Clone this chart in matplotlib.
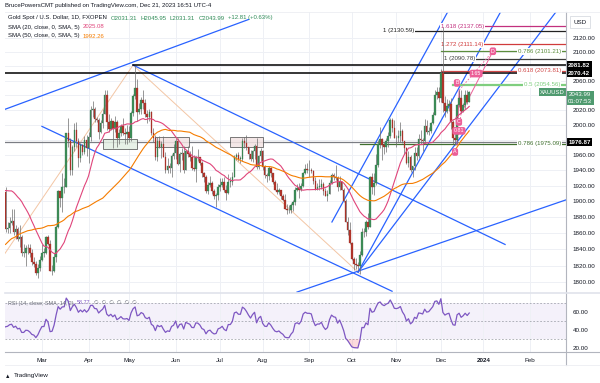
import numpy as np
import pandas as pd
import matplotlib
matplotlib.use("Agg")
import matplotlib.pyplot as plt
from matplotlib.transforms import blended_transform_factory as btf

plt.rcParams['font.family'] = ['Liberation Sans', 'DejaVu Sans']

# ---------------- data ----------------
# closes before the visible window (2022-11-21 .. 2023-02-02), used for SMA / RSI warm-up
warmup_closes = [1738, 1740, 1750, 1755, 1754, 1741, 1749, 1768, 1803, 1797,
                 1769, 1771, 1787, 1789, 1797, 1781, 1810, 1807, 1777, 1793,
                 1787, 1818, 1814, 1793, 1798, 1798, 1814, 1804, 1815, 1824,
                 1828, 1839, 1855, 1833, 1865, 1872, 1877, 1875, 1897, 1920,
                 1916, 1908, 1904, 1932, 1926, 1931, 1937, 1946, 1930, 1928,
                 1923, 1928, 1951, 1912]

start_date = "2023-02-03"   # daily bars (business days) through 2023-12-21

closes = [
    # Feb
    1865, 1867, 1873, 1875, 1861, 1865, 1853, 1855, 1836, 1836, 1842, 1841, 1835, 1825, 1822, 1811, 1817, 1827,
    # Mar
    1836, 1836, 1855, 1847, 1813, 1814, 1831, 1868, 1913, 1904, 1918, 1919, 1989, 1978, 1940, 1970, 1993, 1978, 1956, 1973, 1964, 1980, 1969,
    # Apr
    1984, 2020, 2021, 2008, 2007, 1990, 2003, 2014, 2040, 2004, 1995, 2005, 1994, 2004, 1983, 1989, 1998, 1989, 1988, 1990,
    # May
    1983, 2016, 2039, 2050, 2017, 2021, 2034, 2030, 2015, 2011, 2017, 1989, 1982, 1958, 1978, 1971, 1975, 1957, 1941, 1946, 1943, 1959, 1963,
    # Jun
    1978, 1948, 1961, 1963, 1940, 1965, 1961, 1957, 1943, 1942, 1958, 1957, 1950, 1936, 1932, 1913, 1921, 1923, 1913, 1907, 1908, 1919,
    # Jul
    1921, 1925, 1915, 1911, 1925, 1925, 1932, 1957, 1960, 1955, 1955, 1979, 1976, 1970, 1962, 1955, 1965, 1972, 1945, 1959, 1965,
    # Aug
    1944, 1934, 1933, 1943, 1936, 1925, 1915, 1912, 1914, 1907, 1902, 1891, 1889, 1889, 1895, 1899, 1915, 1917, 1914, 1920, 1937, 1942, 1940,
    # Sep
    1940, 1939, 1926, 1916, 1919, 1919, 1922, 1913, 1907, 1910, 1924, 1934, 1931, 1930, 1919, 1925, 1915, 1901, 1874, 1864, 1848,
    # Oct
    1828, 1822, 1821, 1820, 1833, 1862, 1861, 1874, 1868, 1932, 1919, 1923, 1947, 1974, 1981, 1973, 1970, 1979, 1985, 2006, 1996, 1983,
    # Nov
    1982, 1985, 1992, 1978, 1969, 1950, 1958, 1940, 1946, 1963, 1959, 1981, 1980, 1978, 1998, 1990, 1992, 2002, 2013, 2041, 2044, 2036,
    # Dec
    2071, 2029, 2019, 2025, 2028, 2004, 1982, 1980, 2027, 2036, 2019, 2027, 2040, 2031.31, 2043.99,
]
highs = [
    1918, 1874, 1880, 1890, 1890, 1870, 1868, 1870, 1858, 1846, 1845, 1846, 1846, 1840, 1830, 1826, 1822, 1832,
    1846, 1841, 1856, 1858, 1852, 1821, 1835, 1870, 1914, 1913, 1937, 1930, 1989, 2009, 1983, 1973, 2003, 2004, 1982, 1976, 1975, 1985, 1987,
    1990, 2025, 2032, 2024, 2010, 2009, 2007, 2022, 2048, 2048, 2015, 2009, 2005, 2012, 2007, 1994, 2001, 2009, 1996, 2000,
    1999, 2019, 2042, 2081, 2063, 2029, 2038, 2048, 2035, 2020, 2022, 2019, 1996, 1986, 1984, 1985, 1979, 1985, 1964, 1956, 1949, 1961, 1975,
    1983, 1983, 1964, 1969, 1972, 1966, 1972, 1965, 1972, 1960, 1959, 1968, 1958, 1952, 1938, 1934, 1925, 1933, 1926, 1916, 1911, 1922,
    1930, 1930, 1931, 1921, 1935, 1932, 1938, 1960, 1963, 1964, 1959, 1982, 1984, 1987, 1971, 1966, 1967, 1975, 1982, 1960, 1969,
    1966, 1947, 1937, 1946, 1945, 1937, 1928, 1923, 1917, 1915, 1910, 1909, 1897, 1895, 1898, 1902, 1919, 1922, 1923, 1924, 1938, 1948, 1949,
    1953, 1943, 1941, 1931, 1923, 1929, 1929, 1925, 1917, 1915, 1927, 1937, 1937, 1947, 1933, 1933, 1926, 1917, 1903, 1880, 1874,
    1849, 1831, 1829, 1825, 1838, 1866, 1867, 1876, 1885, 1933, 1937, 1937, 1962, 1980, 1997, 1983, 1977, 1983, 1990, 2009, 2009, 2007,
    1987, 1993, 2004, 1995, 1979, 1971, 1965, 1960, 1946, 1971, 1970, 1988, 1993, 1983, 2008, 2007, 1997, 2004, 2018, 2048, 2052, 2051,
    2076, 2135, 2039, 2035, 2034, 2037, 2006, 1993, 2028, 2047, 2047, 2030, 2047, 2047, 2045.95,
]
lows = [
    1861, 1860, 1860, 1870, 1858, 1853, 1850, 1843, 1832, 1830, 1819, 1834, 1830, 1821, 1818, 1808, 1805, 1813,
    1826, 1830, 1834, 1845, 1813, 1809, 1812, 1825, 1867, 1893, 1886, 1911, 1918, 1970, 1934, 1934, 1965, 1970, 1945, 1951, 1960, 1961, 1959,
    1950, 1979, 2010, 2004, 2004, 1981, 1989, 1996, 2014, 1993, 1991, 1993, 1969, 1990, 1970, 1975, 1985, 1987, 1975, 1974,
    1977, 1978, 2012, 2035, 2005, 2014, 2015, 2021, 2010, 2002, 2005, 1986, 1977, 1953, 1952, 1969, 1956, 1957, 1937, 1936, 1937, 1932, 1955,
    1955, 1947, 1938, 1953, 1936, 1940, 1958, 1952, 1941, 1939, 1925, 1952, 1947, 1932, 1925, 1911, 1910, 1918, 1910, 1903, 1893, 1902,
    1913, 1918, 1912, 1902, 1910, 1918, 1921, 1931, 1954, 1952, 1949, 1952, 1969, 1967, 1955, 1952, 1951, 1955, 1942, 1942, 1952,
    1940, 1930, 1925, 1927, 1932, 1922, 1914, 1910, 1910, 1903, 1900, 1890, 1884, 1885, 1885, 1888, 1896, 1913, 1905, 1913, 1918, 1935, 1937,
    1931, 1936, 1922, 1915, 1915, 1915, 1916, 1908, 1907, 1901, 1910, 1922, 1927, 1927, 1913, 1915, 1914, 1899, 1874, 1858, 1846,
    1827, 1815, 1816, 1813, 1810, 1832, 1855, 1857, 1865, 1868, 1909, 1908, 1921, 1944, 1969, 1953, 1961, 1964, 1971, 1983, 1990, 1982,
    1970, 1977, 1977, 1976, 1961, 1948, 1944, 1938, 1931, 1941, 1954, 1956, 1974, 1965, 1974, 1988, 1986, 1989, 2001, 2013, 2035, 2031,
    2031, 2017, 2010, 2016, 2019, 1995, 1975, 1973, 1974, 2024, 2016, 2017, 2021, 2028, 2031.31,
]

month_labels = ["Mar", "Apr", "May", "Jun", "Jul", "Aug", "Sep", "Oct", "Nov", "Dec", "2024", "Feb"]
month_starts = ["2023-03-01", "2023-04-01", "2023-05-01", "2023-06-01", "2023-07-01", "2023-08-01",
                "2023-09-01", "2023-10-01", "2023-11-01", "2023-12-01", "2024-01-01", "2024-02-01"]
price_ticks = [1800, 1820, 1840, 1860, 1880, 1900, 1920, 1940, 1960, 1980, 2000, 2020, 2040, 2060, 2080, 2100, 2120]
hidden_ticks = [1980, 2040, 2080]
rsi_ticks = [20, 40, 60]

level_black = [2081.82, 2070.42]
level_gray = 1976.87

# ---------------- derived series ----------------
c = np.array(closes, float)
h = np.array(highs, float)
l = np.array(lows, float)
n = len(c)
o = np.r_[warmup_closes[-1], c[:-1]]
x = np.arange(n)
nw = len(warmup_closes)
full = pd.Series(np.r_[warmup_closes, c])
sma20 = full.rolling(20).mean().values[nw:]
sma50 = full.rolling(50).mean().values[nw:]
d = full.diff()
up_ = d.clip(lower=0).ewm(alpha=1 / 14, adjust=False).mean()
dn_ = (-d.clip(upper=0)).ewm(alpha=1 / 14, adjust=False).mean()
rsi = (100 - 100 / (1 + up_ / dn_)).values[nw:]

cal = pd.bdate_range(start_date, "2024-03-29")
month_idx = [int(np.searchsorted(cal, pd.Timestamp(m))) for m in month_starts]

# ---------------- figure ----------------
W, H = 600, 383
fig = plt.figure(figsize=(W / 100, H / 100), dpi=100)
fig.patch.set_facecolor("white")


def fx(px):
    return px / W


def fy(py):
    return 1 - py / H


L, R = 5, 566
T_main, B_main = 12, 293
B_rsi = 352
ax = fig.add_axes([fx(L), fy(B_main), (R - L) / W, (B_main - T_main) / H])
axr = fig.add_axes([fx(L), fy(B_rsi), (R - L) / W, (B_rsi - B_main) / H], sharex=ax)

PXB = 2.025
XL, XR = (L - 5.5) / PXB, (R - 5.5) / PXB
ax.set_yscale("log")
ax.set_xlim(XL, XR)
ax.set_ylim(1786.9, 2157.2)
axr.set_ylim(15.1, 81.2)

for a in (ax, axr):
    for s in a.spines.values():
        s.set_visible(False)
    a.set_facecolor("white")
    a.tick_params(length=0)
    a.set_xticks(month_idx)
    a.grid(True, axis="x", color="#eef0f5", lw=0.7, zorder=0)

ax.yaxis.set_minor_locator(matplotlib.ticker.NullLocator())
ax.yaxis.tick_right()
ax.set_yticks(price_ticks)
ax.set_yticklabels(["" if t in hidden_ticks else f"{t:.2f}" for t in price_ticks])
ax.tick_params(axis="y", labelsize=4.5, pad=5, labelcolor="#131722")
ax.tick_params(axis="x", labelbottom=False)
ax.grid(True, axis="y", color="#eef0f5", lw=0.7, zorder=0)

axr.yaxis.tick_right()
axr.set_yticks(rsi_ticks)
axr.set_yticklabels([f"{t:.2f}" for t in rsi_ticks])
axr.tick_params(axis="y", labelsize=4.5, pad=5, labelcolor="#131722")
axr.set_xticklabels(month_labels)
axr.tick_params(axis="x", labelsize=4.5, pad=4, labelcolor="#131722")
for lab in axr.get_xticklabels():
    if lab.get_text() == "2024":
        lab.set_fontweight("bold")

# ---------------- drawings ----------------
BLUE = "#2962ff"


def line_pts(p1, p2, x0=None, x1=None):
    """straight (in log-price) line through p1,p2 evaluated between x0 and x1"""
    (a1, b1), (a2, b2) = p1, p2
    x0 = a1 if x0 is None else x0
    x1 = a2 if x1 is None else x1
    k = (np.log(b2) - np.log(b1)) / (a2 - a1)
    xs = np.array([x0, x1])
    return xs, np.exp(np.log(b1) + k * (xs - a1))


def draw(p1, p2, x0=None, x1=None, **kw):
    xs, ys = line_pts(p1, p2, x0, x1)
    ax.plot(xs, ys, **kw)


# blue channel / fan lines
draw((-0.25, 2021), (63, 2086), XL, 120, color=BLUE, lw=0.9, zorder=4)
draw((63, 2081.8), (246.7, 1846), color=BLUE, lw=0.9, zorder=4)
draw((18, 1998), (190.9, 1789), color=BLUE, lw=0.9, zorder=4)
draw((143.95, 1788), (276.8, 1902), color=BLUE, lw=0.9, zorder=4)
draw((161.2, 1874), (218.5, 2158), color=BLUE, lw=0.9, zorder=4)
draw((174.1, 1812), (223.5, 2048), 174.1, 250, color=BLUE, lw=0.9, zorder=4)
draw((174.1, 1812), (242.7, 2048), 174.1, 290, color=BLUE, lw=0.9, zorder=4)

# thin peach swing lines
PEACH = "#f3c6a5"
ax.plot([-0.25, 63, 175], [1835, 2081.8, 1810], color=PEACH, lw=0.7, zorder=2)

# horizontal levels
ax.plot([-0.25, XR], [level_black[1]] * 2, color="#000000", lw=1.1, zorder=5)
ax.plot([63, XR], [level_black[0]] * 2, color="#000000", lw=1.1, zorder=5)
ax.axhline(level_gray, color="#7b7d84", lw=0.9, zorder=3)

# rectangles (consolidation boxes)
for (xa, xb, ya, yb, fc) in [(48.1, 64.9, 1968.4, 1981.0, "#e3efe3"),
                             (73.8, 90.6, 1971.0, 1984.0, "#f3e3e3"),
                             (110.9, 127.2, 1971.0, 1984.0, "#f3e3e3")]:
    ax.add_patch(plt.Rectangle((xa, ya), xb - xa, yb - ya, fc=fc, ec="#4a4a4a",
                               lw=0.6, alpha=0.85, zorder=3))

# fib levels
FS = 4.4
fibs = [
    ("1.618 (2137.05)", 2137.05, "#c2307e", 215.0, "left", 236.5),
    ("1.272 (2111.14)", 2111.14, "#d03b3b", 215.0, "left", 236.5),
    ("1 (2090.78)", 2090.78, "#3c3c3c", 216.5, "left", 230.5),
    ("1 (2130.59)", 2130.59, "#222222", 202.0, "right", 202.0),
    ("0.786 (2101.21)", 2101.21, "#5c8d3c", 253.0, "left", 215.0),
    ("0.618 (2073.81)", 2073.81, "#d04848", 253.0, "left", 215.0),
    ("0.5 (2054.56)", 2054.56, "#7fce7f", 256.0, "left", 221.0),
    ("0.786 (1975.09)", 1975.09, "#3f6f2e", 253.0, "left", 175.0),
]
for lab, p, col, tx, ha, lx in fibs:
    lw = 1.6 if lab.startswith("0.5") else 0.9
    ax.plot([lx, XR], [p, p], color=col, lw=lw, zorder=5)
    ax.text(tx, p, lab, color=col, fontsize=FS, ha=ha, va="center", zorder=6,
            bbox=dict(boxstyle="square,pad=0.15", fc="white", ec="none"))

# harmonic pattern (pink)
PINK = "#ec5f98"
A, B, C_, D = (223, 1973), (224, 2047), (225, 2016), (240.7, 2101.2)
ax.plot([A[0], B[0], C_[0], D[0]], [A[1], B[1], C_[1], D[1]], color=PINK, lw=0.7, zorder=6)
ax.plot([A[0], C_[0]], [A[1], C_[1]], color=PINK, lw=0.6, ls=(0, (2, 2)), zorder=6)
ax.plot([B[0], D[0]], [B[1], D[1]], color=PINK, lw=0.6, ls=(0, (2, 2)), zorder=6)
for t, (px_, py_) in [("A", (222.0, 1964)), ("B", (222.9, 2057)), ("C", (223.9, 2004)),
                      ("0.81", (223.9, 1992)), ("1.65", (232.4, 2070)), ("D", (240.7, 2101.2))]:
    ax.text(px_, py_, t, color="white", fontsize=3.8, ha="center", va="center", zorder=8,
            bbox=dict(boxstyle="round,pad=0.25,rounding_size=0.4", fc=PINK, ec="none"))

# ---------------- candles and SMAs ----------------
UP, DN, WICK = "#3f8f5a", "#b5362c", "#6d6d6d"
upm = c >= o
ax.vlines(x, l, h, color=WICK, lw=0.5, zorder=6)
body_lo = np.minimum(o, c)
body_h = np.maximum(np.abs(c - o), 0.6)
ax.bar(x, body_h, bottom=body_lo, width=0.75, color=np.where(upm, UP, DN),
       edgecolor=np.where(upm, "#2e6e44", "#8e2a22"), lw=0.2, zorder=7)

ax.plot(x, sma20, color="#e0457b", lw=0.8, zorder=7)
ax.plot(x, sma50, color="#f57c00", lw=0.8, zorder=7)

# ---------------- RSI ----------------
RSIC = "#7e57c2"
axr.axhspan(30, 70, color=RSIC, alpha=0.08, lw=0, zorder=1)
for lv in (70, 50, 30):
    axr.axhline(lv, color="#9598a1", lw=0.5, ls=(0, (2.5, 2.5)), zorder=2)
axr.fill_between(x, rsi, 30, where=rsi < 30, color="#f23645", alpha=0.18, lw=0, interpolate=True, zorder=2)
axr.fill_between(x, rsi, 70, where=rsi > 70, color="#089981", alpha=0.15, lw=0, interpolate=True, zorder=2)
axr.plot(x, rsi, color=RSIC, lw=0.9, zorder=3)

# ---------------- right-axis tags ----------------
tr = btf(ax.transAxes, ax.transData)


def tag(p, text, fc, tc="white", fs=4.4):
    ax.text(1.004, p, text, transform=tr, fontsize=fs, color=tc, ha="left", va="center",
            fontweight="bold", clip_on=False, zorder=20,
            bbox=dict(boxstyle="square,pad=0.28", fc=fc, ec="none"))


tag(level_black[0], f"{level_black[0]:.2f}", "#000000")
tag(level_black[1], f"{level_black[1]:.2f}", "#000000")
tag(level_gray, f"{level_gray:.2f}", "#000000")
last = c[-1]
ax.text(1.004, last, f"{last:.2f}\n01:07:53", transform=tr, fontsize=4.4, color="white",
        ha="left", va="top", clip_on=False, zorder=20, linespacing=1.3,
        bbox=dict(boxstyle="square,pad=0.28", fc="#4f9a6f", ec="none"))
ax.text(0.998, last, "XAUUSD", transform=tr, fontsize=4.2, color="white", ha="right",
        va="center", clip_on=False, zorder=20,
        bbox=dict(boxstyle="square,pad=0.25", fc="#4f9a6f", ec="none"))


# ---------------- frame lines ----------------
def fline(x0, y0, x1, y1, col="#d1d4dc", lw=0.8):
    fig.add_artist(plt.Line2D([fx(x0), fx(x1)], [fy(y0), fy(y1)], color=col, lw=lw))


fline(R, T_main, R, 365, "#b2b5be", 0.8)
fline(L, B_main, 600, B_main, "#e0e3eb", 1.2)
fline(L, B_rsi, 600, B_rsi, "#b2b5be", 0.8)
fline(L, 365, 600, 365, "#eceef2", 0.6)
fline(L, T_main, 600, T_main, "#eceef2", 0.6)

# USD box
fig.text(fx(580), fy(22), "USD", fontsize=4.5, color="#131722", ha="center", va="center",
         bbox=dict(boxstyle="square,pad=0.5", fc="white", ec="#d1d4dc", lw=0.5))

# ---------------- header / legends ----------------
fig.text(fx(5), fy(5.5), "BrucePowersCMT published on TradingView.com, Dec 21, 2023 16:51 UTC-4",
         fontsize=4.3, color="#131722", va="center")


def chain(host, parts, px, py, fs=4.3):
    t = fig.text(fx(px), fy(py), parts[0][0], color=parts[0][1], fontsize=fs, va="center", zorder=30)
    for s, col in parts[1:]:
        t = host.annotate(s, xy=(1, 0.5), xycoords=t, xytext=(2.5, 0), textcoords="offset points",
                          color=col, fontsize=fs, va="center", annotation_clip=False, zorder=30)
    return t


GREEN_T = "#2e8b57"
chain(ax, [("Gold Spot / U.S. Dollar, 1D, FXOPEN", "#131722"),
           ("O2031.31", GREEN_T), ("H2045.95", GREEN_T), ("L2031.31", GREEN_T),
           ("C2043.99", GREEN_T), ("+12.81 (+0.63%)", GREEN_T)], 8, 18)
chain(ax, [("SMA (20, close, 0, SMA, 5)", "#131722"), ("2025.08", "#e0457b")], 8, 27)
chain(ax, [("SMA (50, close, 0, SMA, 5)", "#131722"), ("1992.26", "#f57c00")], 8, 36)
chain(axr, [("RSI (14, close; SMA, 14, 2)", "#6a6d78"), (f"{rsi[-1]:.2f}", RSIC),
            ("\u2205  \u2205  \u2205  \u2205  \u2205  \u2205", "#6a6d78")], 8, 303, fs=3.9)

# bottom logo
fig.text(fx(5), fy(376), "\u25B2", fontsize=4, color="#131722", va="center")
fig.text(fx(14), fy(376), "TradingView", fontsize=4.6, color="#131722", va="center")

fig.savefig("out.png", dpi=100, facecolor="white")
